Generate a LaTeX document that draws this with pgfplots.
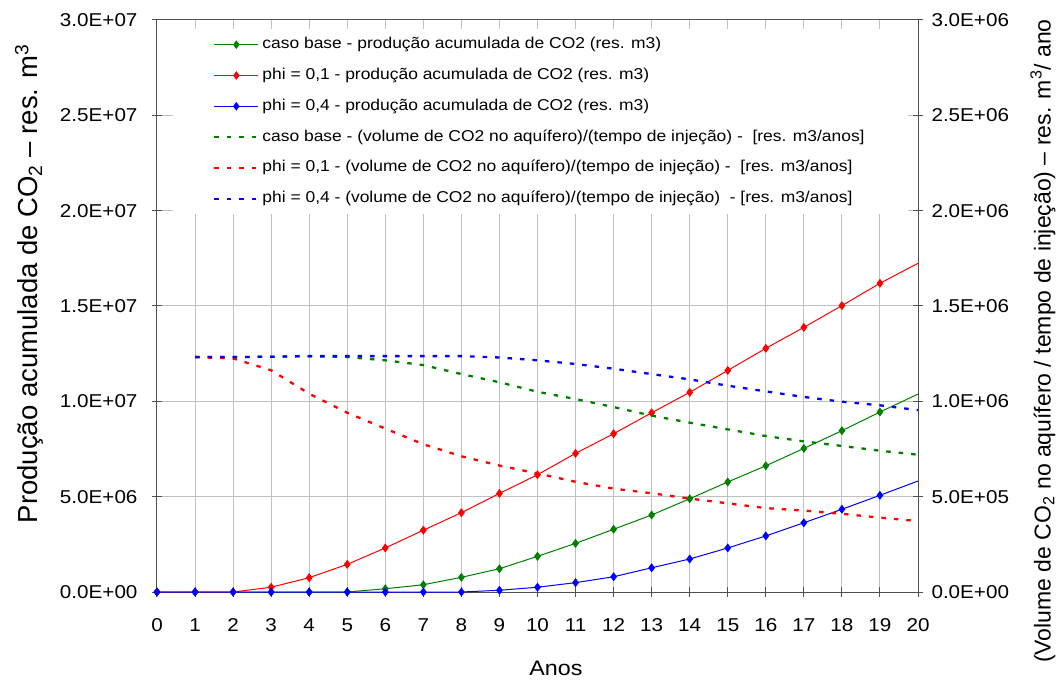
\documentclass[border=0pt]{standalone}
\usepackage{fontspec}
\setmainfont{Liberation Sans}[FakeStretch=1.11]
\newfontfamily\lblfont{Liberation Sans}
\usepackage{pgfplots}
\pgfplotsset{compat=1.18}
\definecolor{xgreen}{RGB}{0,128,0}
\definecolor{xred}{RGB}{255,0,0}
\definecolor{xblue}{RGB}{0,0,255}
\definecolor{gridc}{RGB}{192,192,192}
\definecolor{axc}{RGB}{80,80,80}
\newcommand\tickfont{\fontsize{18.6bp}{22bp}\selectfont}
\newcommand\legfont{\fontsize{15.7bp}{18bp}\selectfont}

\pgfplotstableread{
x green red blue
0 0 0 0
1 0 0 0
2 0 0 0
3 0 0.25e6 0
4 0 0.75e6 0
5 0 1.45e6 0
6 0.17e6 2.31e6 0
7 0.38e6 3.24e6 0
8 0.77e6 4.16e6 0
9 1.22e6 5.17e6 0.09e6
10 1.87e6 6.15e6 0.25e6
11 2.55e6 7.27e6 0.49e6
12 3.29e6 8.30e6 0.80e6
13 4.04e6 9.40e6 1.27e6
14 4.89e6 10.47e6 1.73e6
15 5.77e6 11.62e6 2.31e6
16 6.62e6 12.78e6 2.94e6
17 7.53e6 13.88e6 3.63e6
18 8.46e6 15.02e6 4.34e6
19 9.44e6 16.19e6 5.07e6
20 10.38e6 17.24e6 5.82e6
}\prodtable

\pgfplotstableread{
x green red blue
1 1.232e6 1.232e6 1.232e6
2 1.232e6 1.225e6 1.232e6
3 1.234e6 1.163e6 1.234e6
4 1.237e6 1.040e6 1.237e6
5 1.232e6 0.940e6 1.237e6
6 1.215e6 0.857e6 1.237e6
7 1.190e6 0.775e6 1.237e6
8 1.143e6 0.712e6 1.237e6
9 1.100e6 0.663e6 1.230e6
10 1.050e6 0.622e6 1.215e6
11 1.012e6 0.578e6 1.196e6
12 0.970e6 0.542e6 1.171e6
13 0.925e6 0.518e6 1.143e6
14 0.888e6 0.490e6 1.115e6
15 0.853e6 0.465e6 1.082e6
16 0.818e6 0.440e6 1.052e6
17 0.790e6 0.427e6 1.023e6
18 0.766e6 0.410e6 0.998e6
19 0.741e6 0.390e6 0.979e6
20 0.720e6 0.372e6 0.954e6
}\voltable

\begin{document}
\begin{tikzpicture}
\useasboundingbox (-157bp,-94bp) rectangle (899bp,592bp);
\begin{axis}[
  at={(0,0)}, anchor=south west,
  scale only axis, width=761bp, height=572bp,
  xmin=0, xmax=20, ymin=0, ymax=3e7,
  xtick={0,...,20}, xtick pos=bottom, ytick pos=left,
  ytick={0,5e6,1e7,1.5e7,2e7,2.5e7,3e7},
  yticklabels={0.0E+00,5.0E+06,1.0E+07,1.5E+07,2.0E+07,2.5E+07,3.0E+07},
  scaled y ticks=false,
  /pgf/number format/assume math mode=true,
  tick align=center, major tick length=10bp,
  tick style={axc, line width=1bp},
  axis line style={axc, line width=1bp},
  xmajorgrids, ymajorgrids,
  grid style={gridc, line width=1bp},
  ticklabel style={font=\tickfont},
  yticklabel style={anchor=east, xshift=-11bp},
  xticklabel style={anchor=north, yshift=-18bp},
  xlabel={Anos},
  xlabel style={at={(rel axis cs:0.5243,-0.1329)}, anchor=center, font=\fontsize{21bp}{25bp}\selectfont},
  ylabel={Produção acumulada de CO\textsubscript{2} – res. m\textsuperscript{3}},
  ylabel style={at={(rel axis cs:-0.1682,0.539)}, anchor=center, font=\lblfont\fontsize{27.5bp}{32bp}\selectfont},
]
\addplot[xgreen, line width=1bp, mark=diamond*, mark size=3.7bp, mark indices={1,...,20}] table[x=x,y=green] {\prodtable};
\addplot[xred, line width=1bp, mark=diamond*, mark size=3.7bp, mark indices={1,...,20}] table[x=x,y=red] {\prodtable};
\addplot[xblue, line width=1bp, mark=diamond*, mark size=3.7bp, mark indices={1,...,20}] table[x=x,y=blue] {\prodtable};
\end{axis}
\begin{axis}[
  at={(0,0)}, anchor=south west,
  scale only axis, width=761bp, height=572bp,
  xmin=0, xmax=20, ymin=0, ymax=3e6,
  axis x line=none, axis y line*=right,
  ytick={0,5e5,1e6,1.5e6,2e6,2.5e6,3e6},
  yticklabels={0.0E+00,5.0E+05,1.0E+06,1.5E+06,2.0E+06,2.5E+06,3.0E+06},
  scaled y ticks=false,
  tick align=center, major tick length=10bp,
  tick style={axc, line width=1bp},
  axis line style={axc, line width=1bp},
  ticklabel style={font=\tickfont},
  yticklabel style={anchor=west, xshift=5bp},
  ylabel={(Volume de CO\textsubscript{2} no aquífero / tempo de injeção) – res. m\textsuperscript{3}/ ano},
  ylabel style={at={(rel axis cs:1.1643,0.4388)}, anchor=center, font=\lblfont\fontsize{23bp}{27bp}\selectfont},
  legend image code/.code={\draw[mark repeat=2,mark phase=2,#1] plot coordinates {(0bp,0bp)(22bp,0bp)(44bp,0bp)};},
  legend cell align=left,
  legend style={at={(0.0210,0.9843)}, anchor=north west, draw=none, fill=white,
    font=\legfont, inner xsep=40bp, inner ysep=8bp, row sep=15.8bp,
    nodes={text height=11.5bp, text depth=3.5bp, inner ysep=0bp, inner xsep=3bp}},
]
\addlegendimage{xgreen, line width=1bp, mark=diamond*, mark size=3.5bp}
\addlegendentry{caso base - produção acumulada de CO2 (res. m3)}
\addlegendimage{xred, line width=1bp, mark=diamond*, mark size=3.5bp}
\addlegendentry{phi = 0,1 - produção acumulada de CO2 (res. m3)}
\addlegendimage{xblue, line width=1bp, mark=diamond*, mark size=3.5bp}
\addlegendentry{phi = 0,4 - produção acumulada de CO2 (res. m3)}
\addplot[xgreen, line width=2.3bp, dash pattern=on 4.5bp off 8bp] table[x=x,y=green] {\voltable};
\addlegendentry{caso base - (volume de CO2 no aquífero)/(tempo de injeção) -\ \ [res. m3/anos]}
\addplot[xred, line width=2.3bp, dash pattern=on 4.5bp off 8bp] table[x=x,y=red] {\voltable};
\addlegendentry{phi = 0,1 - (volume de CO2 no aquífero)/(tempo de injeção) -\ \ [res. m3/anos]}
\addplot[xblue, line width=2.3bp, dash pattern=on 4.5bp off 8bp] table[x=x,y=blue] {\voltable};
\addlegendentry{phi = 0,4 - (volume de CO2 no aquífero)/(tempo de injeção)\ \ - [res. m3/anos]}
\end{axis}
\end{tikzpicture}
\end{document}
